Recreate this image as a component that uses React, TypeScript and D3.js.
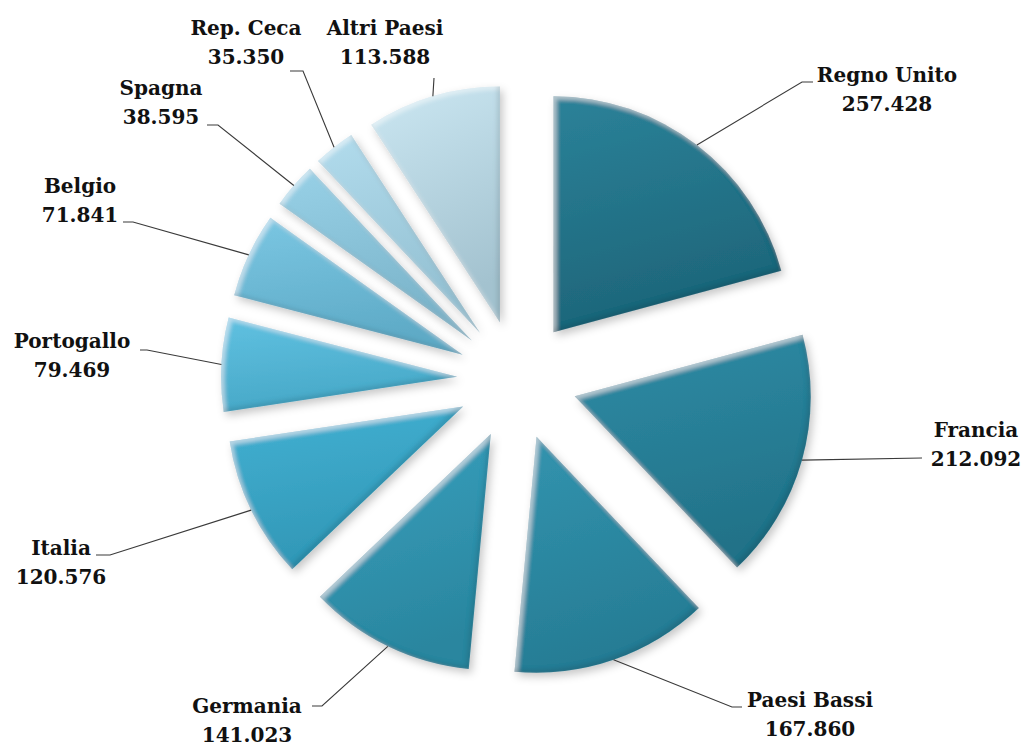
import * as d3 from "d3";

const WIDTH = 1025;
const HEIGHT = 745;
const CENTER = { x: 517, y: 380 };
const RADIUS = 236;
const EXPLODE = 60;

// dati
const countries = [
  "Regno Unito",
  "Francia",
  "Paesi Bassi",
  "Germania",
  "Italia",
  "Portogallo",
  "Belgio",
  "Spagna",
  "Rep. Ceca",
  "Altri Paesi",
];
const values = [257428, 212092, 167860, 141023, 120576, 79469, 71841, 38595, 35350, 113588];

// colori (alto, basso)
const COLORS: [string, string][] = [
  ["#2b8299", "#1d6579"],
  ["#2e8ca6", "#227288"],
  ["#3294af", "#267c94"],
  ["#38a0be", "#2a869f"],
  ["#43b1d3", "#3197b6"],
  ["#60c1e1", "#47a8c7"],
  ["#7bc7e3", "#5eaac6"],
  ["#98d1e7", "#7ab3c9"],
  ["#b2dced", "#92bfd1"],
  ["#cbe7f2", "#a3c2cf"],
];

// posizione etichette e linee guida
const LABELS = [
  { x: 887, y: 82, elbow: [802, 82], end: [813, 82] },
  { x: 976, y: 437, elbow: null, end: [922, 458] },
  { x: 810, y: 707, elbow: [732, 707], end: [742, 707] },
  { x: 247, y: 713, elbow: [322, 706], end: [312, 706] },
  { x: 61, y: 555, elbow: [110, 555], end: [96, 555] },
  { x: 72, y: 348, elbow: [147, 350], end: [140, 350] },
  { x: 80, y: 193, elbow: [133, 222], end: [123, 222] },
  { x: 161, y: 95, elbow: [218, 125], end: [207, 125] },
  { x: 246, y: 35, elbow: [303, 71], end: [290, 71] },
  { x: 385, y: 35, elbow: null, end: [434, 78] },
];

const it = d3.formatLocale({
  decimal: ",",
  thousands: ".",
  grouping: [3],
  currency: ["€", ""],
});
const fmt = it.format(",d");

export default function App() {
  const data = countries.map((c, i) => ({ name: c, value: values[i], i }));
  const pie = d3
    .pie<{ name: string; value: number; i: number }>()
    .sort(null)
    .value((d) => d.value);
  const arcs = pie(data);

  const arc = d3
    .arc<d3.PieArcDatum<{ name: string; value: number; i: number }>>()
    .innerRadius(0)
    .outerRadius(RADIUS);
  const rim = d3
    .arc<d3.PieArcDatum<{ name: string; value: number; i: number }>>()
    .innerRadius(RADIUS)
    .outerRadius(RADIUS);

  const offset = (a: d3.PieArcDatum<unknown>) => {
    const m = (a.startAngle + a.endAngle) / 2;
    return [CENTER.x + Math.sin(m) * EXPLODE, CENTER.y - Math.cos(m) * EXPLODE];
  };

  return (
    <svg
      width={WIDTH}
      height={HEIGHT}
      style={{ position: "absolute", left: 0, top: 0, background: "#fff" }}
    >
      <defs>
        {COLORS.map((c, i) => (
          <linearGradient key={i} id={`g${i}`} x1="0" y1="0" x2="0.25" y2="1">
            <stop offset="0%" stopColor={c[0]} />
            <stop offset="100%" stopColor={c[1]} />
          </linearGradient>
        ))}
        <filter id="bevel" x="-15%" y="-15%" width="130%" height="130%">
          <feGaussianBlur in="SourceAlpha" stdDeviation="2" result="b" />
          <feOffset in="b" dx="3" dy="3" result="o1" />
          <feComposite in="SourceAlpha" in2="o1" operator="out" result="hl" />
          <feFlood floodColor="#ffffff" floodOpacity="0.45" />
          <feComposite in2="hl" operator="in" result="hlc" />
          <feOffset in="b" dx="-3" dy="-3" result="o2" />
          <feComposite in="SourceAlpha" in2="o2" operator="out" result="sh" />
          <feFlood floodColor="#000000" floodOpacity="0.22" />
          <feComposite in2="sh" operator="in" result="shc" />
          <feGaussianBlur in="SourceAlpha" stdDeviation="4" result="ds" />
          <feOffset in="ds" dx="3" dy="4" result="dso" />
          <feFlood floodColor="#000000" floodOpacity="0.22" />
          <feComposite in2="dso" operator="in" result="dsc" />
          <feMerge>
            <feMergeNode in="dsc" />
            <feMergeNode in="SourceGraphic" />
            <feMergeNode in="hlc" />
            <feMergeNode in="shc" />
          </feMerge>
        </filter>
      </defs>

      {arcs.map((a, i) => {
        const [tx, ty] = offset(a);
        return (
          <path
            key={i}
            d={arc(a) || ""}
            transform={`translate(${tx},${ty})`}
            fill={`url(#g${i})`}
            filter="url(#bevel)"
          />
        );
      })}

      {/* linee guida */}
      {arcs.map((a, i) => {
        const [tx, ty] = offset(a);
        const [cx, cy] = rim.centroid(a);
        const l = LABELS[i];
        const pts = [[cx + tx, cy + ty]];
        if (l.elbow) pts.push(l.elbow);
        pts.push(l.end);
        return (
          <path
            key={i}
            d={d3.line()(pts as [number, number][]) || ""}
            fill="none"
            stroke="#3a3a3a"
            strokeWidth={1.1}
          />
        );
      })}

      {/* etichette */}
      {arcs.map((a, i) => {
        const l = LABELS[i];
        return (
          <text
            key={i}
            x={l.x}
            y={l.y}
            textAnchor="middle"
            fontFamily="'DejaVu Serif', serif"
            fontWeight="bold"
            fontSize={20}
            fill="#111"
          >
            <tspan x={l.x}>{a.data.name}</tspan>
            <tspan x={l.x} dy={28.5}>
              {fmt(a.data.value)}
            </tspan>
          </text>
        );
      })}
    </svg>
  );
}
